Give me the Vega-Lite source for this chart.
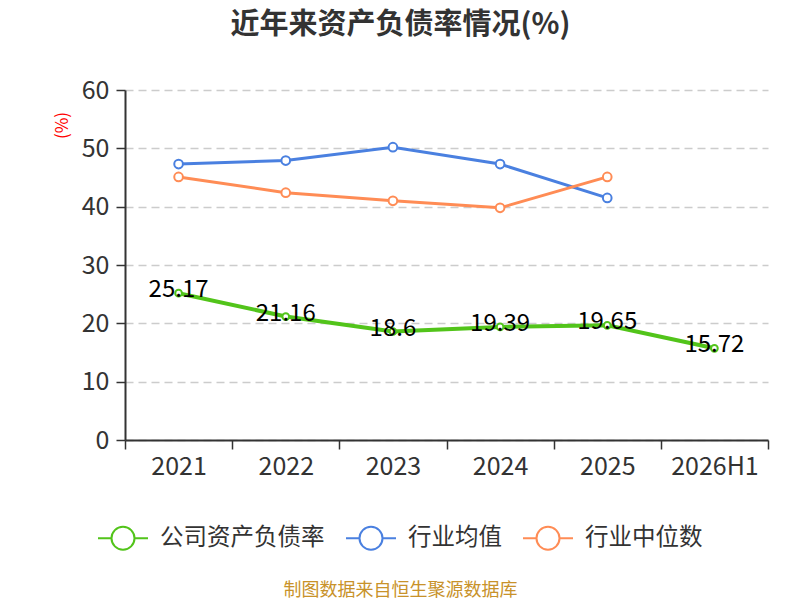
{
  "$schema": "https://vega.github.io/schema/vega-lite/v6.json",
  "autosize": {"type": "none"},
  "width": 643,
  "height": 350,
  "padding": {"left": 125, "top": 90, "right": 32, "bottom": 160},
  "background": "white",
  "config": {
    "font": "Noto Sans CJK SC",
    "view": {"stroke": null},
    "axis": {
      "labelFont": "Noto Sans CJK SC", "titleFont": "Noto Sans CJK SC",
      "labelFontSize": 25, "labelColor": "#333333",
      "domainColor": "#333333", "domainWidth": 2,
      "tickColor": "#333333", "tickWidth": 1.5, "tickSize": 9
    },
    "legend": {"labelFont": "Noto Sans CJK SC"}
  },
  "title": {
    "text": "近年来资产负债率情况(%)",
    "anchor": "middle", "frame": "group", "dx": -46, "offset": 38,
    "fontSize": 29, "fontWeight": "bold", "color": "#333333", "font": "Noto Sans CJK SC"
  },
  "data": {"values": [
    {"year": "2021", "series": "公司资产负债率", "value": 25.17},
    {"year": "2022", "series": "公司资产负债率", "value": 21.16},
    {"year": "2023", "series": "公司资产负债率", "value": 18.6},
    {"year": "2024", "series": "公司资产负债率", "value": 19.39},
    {"year": "2025", "series": "公司资产负债率", "value": 19.65},
    {"year": "2026H1", "series": "公司资产负债率", "value": 15.72},
    {"year": "2021", "series": "行业均值", "value": 47.3},
    {"year": "2022", "series": "行业均值", "value": 47.9},
    {"year": "2023", "series": "行业均值", "value": 50.2},
    {"year": "2024", "series": "行业均值", "value": 47.3},
    {"year": "2025", "series": "行业均值", "value": 41.5},
    {"year": "2021", "series": "行业中位数", "value": 45.1},
    {"year": "2022", "series": "行业中位数", "value": 42.4},
    {"year": "2023", "series": "行业中位数", "value": 41.0},
    {"year": "2024", "series": "行业中位数", "value": 39.8},
    {"year": "2025", "series": "行业中位数", "value": 45.1}
  ]},
  "encoding": {
    "x": {
      "field": "year", "type": "nominal", "sort": null,
      "scale": {"type": "band", "paddingInner": 0, "paddingOuter": 0},
      "axis": {
        "labelAngle": 0, "tickBand": "extent", "labelPadding": 5,
        "title": "制图数据来自恒生聚源数据库",
        "titleColor": "#c8922a", "titleFontSize": 18, "titleFontWeight": "normal",
        "titleX": 275, "titleY": 150, "titleBaseline": "middle", "titleAnchor": null
      }
    },
    "y": {
      "field": "value", "type": "quantitative",
      "scale": {"domain": [0, 60]},
      "axis": {
        "values": [0, 10, 20, 30, 40, 50, 60], "labelPadding": 7,
        "grid": true, "gridColor": "#cccccc", "gridDash": [8, 5], "gridWidth": 1.5,
        "title": "(%)", "titleColor": "#ff0000", "titleFontSize": 17, "titleFontWeight": "normal",
        "titleX": -63, "titleY": 35, "titleAngle": 270, "titleAlign": "center", "titleBaseline": "middle"
      }
    },
    "color": {
      "field": "series", "type": "nominal",
      "scale": {"domain": ["公司资产负债率", "行业均值", "行业中位数"], "range": ["#52c41a", "#4a80e0", "#ff8c55"]},
      "legend": {
        "title": null, "orient": "none", "direction": "horizontal",
        "legendX": -28, "legendY": 422,
        "symbolType": "M-1,0L-0.46,0M0.46,0L1,0M0.46,0A0.46,0.46,0,1,1,-0.46,0A0.46,0.46,0,1,1,0.46,0",
        "symbolSize": 2500, "symbolStrokeWidth": 2,
        "labelFontSize": 23.5, "labelColor": "#333333", "labelOffset": 11, "columnPadding": 17, "labelLimit": 0,
        "encode": {"symbols": {"update": {"fill": {"value": "white"}, "strokeWidth": {"value": 2}}}}
      }
    }
  },
  "layer": [
    {
      "mark": {"type": "line"},
      "encoding": {
        "strokeWidth": {"condition": {"test": "datum.series === '公司资产负债率'", "value": 4}, "value": 3}
      }
    },
    {
      "mark": {"type": "point", "filled": false, "fill": "white", "opacity": 1, "strokeWidth": 2},
      "encoding": {
        "size": {"condition": {"test": "datum.series === '公司资产负债率'", "value": 45}, "value": 75}
      }
    },
    {
      "transform": [{"filter": "datum.series === '公司资产负债率'"}],
      "mark": {"type": "text", "fontSize": 24, "baseline": "middle", "dy": -3},
      "encoding": {
        "text": {"field": "value", "type": "quantitative"},
        "color": {"value": "#000000"}
      }
    }
  ]
}
